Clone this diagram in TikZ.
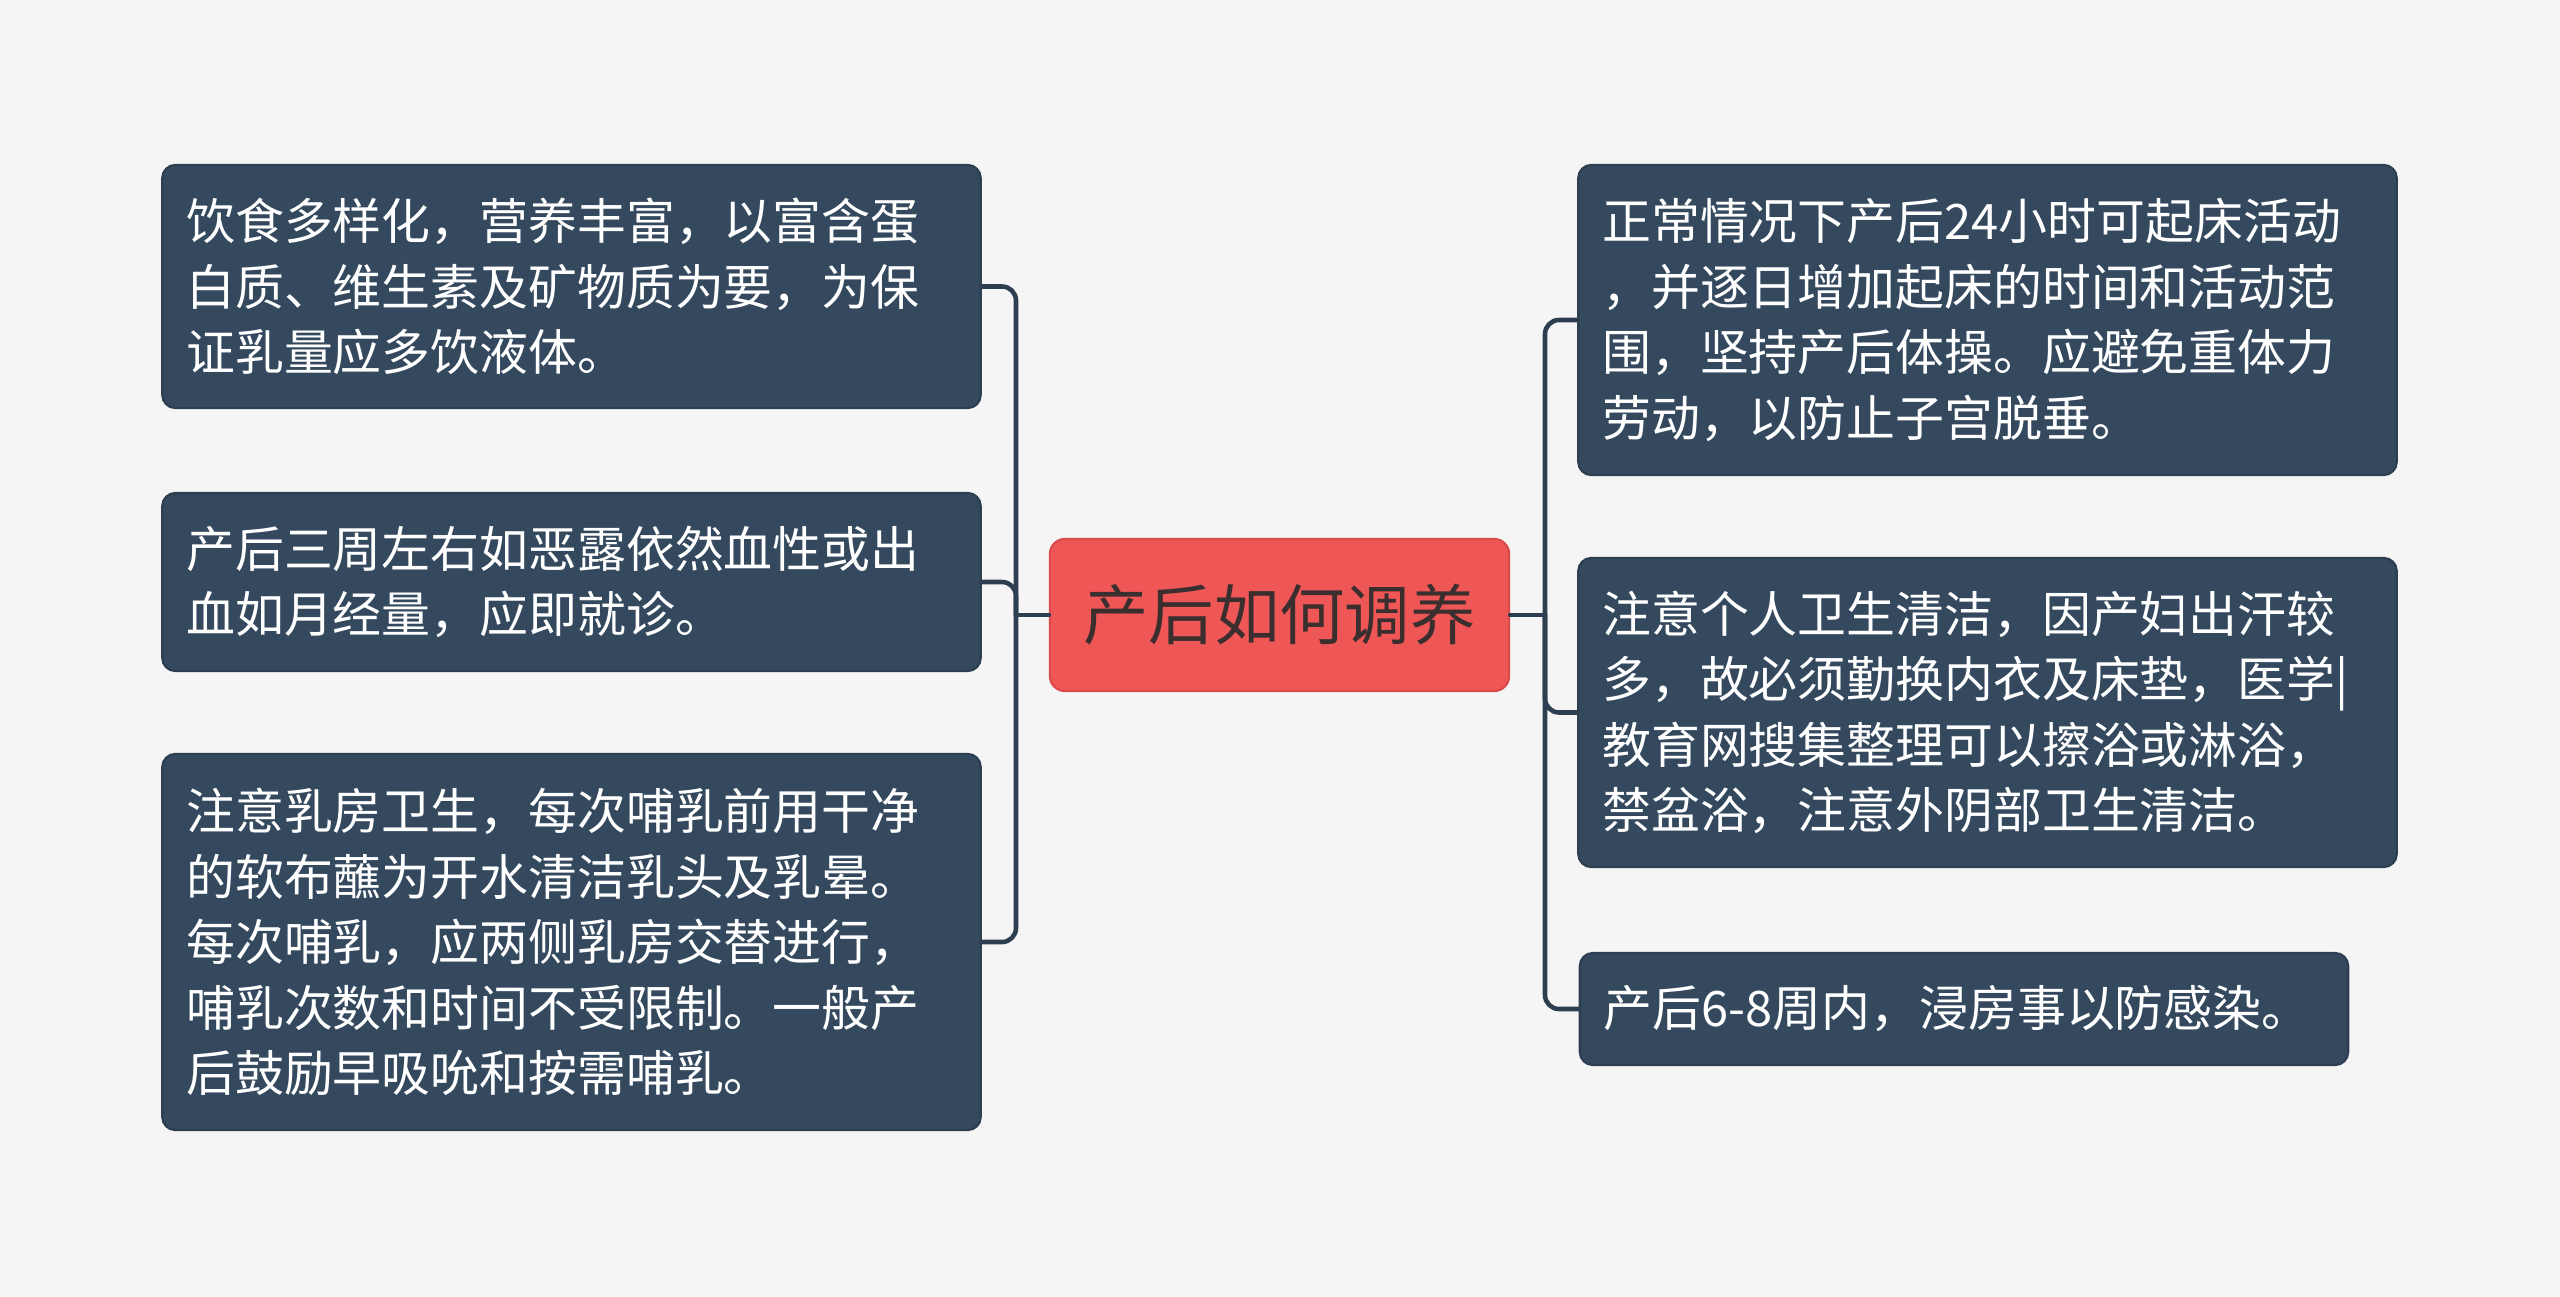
\documentclass[tikz,border=0pt]{standalone}
\usepackage{fontspec}
\setmainfont{Noto Sans CJK SC}
\definecolor{bgc}{HTML}{F5F5F5}
\definecolor{boxc}{HTML}{34495E}
\definecolor{boxl}{HTML}{2C3E50}
\definecolor{rootc}{HTML}{EF5656}
\definecolor{rootl}{HTML}{D94A4A}
\definecolor{roott}{HTML}{3A2E2E}
\tikzset{
 leaf/.style={draw=boxl, line width=0.6pt, fill=boxc, text=white, rounded corners=0.13cm,
   align=left, inner xsep=0.24cm, inner ysep=0pt,
   font=\fontsize{13.9pt}{18.6pt}\selectfont},
 root/.style={draw=rootl, line width=0.6pt, fill=rootc, text=roott, rounded corners=0.15cm,
   minimum width=4.59cm, minimum height=1.52cm, inner sep=0pt,
   font=\fontsize{18.6pt}{22pt}\selectfont},
 link/.style={draw=boxl, line width=1.3pt, rounded corners=0.14cm}
}
\begin{document}
\begin{tikzpicture}[x=0.01cm, y=-0.01cm, line join=round, line cap=round]
 \def\xl{571.5} \def\xr{1987.5}
 \fill[bgc] (0,0) rectangle (2560,1297);
 \useasboundingbox (0,0) rectangle (2560,1297);
 \node[root] (root) at (1279.5,615) {产后如何调养};
 % left side
 \node[leaf, text width=7.7cm, minimum width=8.13cm, minimum height=2.43cm] (l1) at (\xl,286.5)
  {饮食多样化，营养丰富，以富含蛋\\白质、维生素及矿物质为要，为保\\证乳量应多饮液体。};
 \node[leaf, text width=7.7cm, minimum width=8.13cm, minimum height=1.78cm] (l2) at (\xl,582)
  {产后三周左右如恶露依然血性或出\\血如月经量，应即就诊。};
 \node[leaf, text width=7.7cm, minimum width=8.13cm, minimum height=3.76cm] (l3) at (\xl,942)
  {注意乳房卫生，每次哺乳前用干净\\的软布蘸为开水清洁乳头及乳晕。\\每次哺乳，应两侧乳房交替进行，\\哺乳次数和时间不受限制。一般产\\后鼓励早吸吮和按需哺乳。};
 % right side
 \node[leaf, text width=7.7cm, minimum width=8.15cm, minimum height=3.10cm] (r1) at (\xr,320)
  {正常情况下产后24小时可起床活动\\，并逐日增加起床的时间和活动范\\围，坚持产后体操。应避免重体力\\劳动，以防止子宫脱垂。};
 \node[leaf, text width=7.7cm, minimum width=8.15cm, minimum height=3.09cm] (r2) at (\xr,712.5)
  {注意个人卫生清洁，因产妇出汗较\\多，故必须勤换内衣及床垫，医学|\\教育网搜集整理可以擦浴或淋浴，\\禁盆浴，注意外阴部卫生清洁。};
 \node[leaf, text width=7.2cm, minimum width=7.68cm, minimum height=1.12cm] (r3) at (1964,1009)
  {产后6-8周内，浸房事以防感染。};
 \coordinate (jl) at (1016,615);
 \coordinate (jr) at (1545,615);
 \draw[link] (root.west) -- (jl);
 \draw[link] (l1.east) -| (jl) |- (l3.east);
 \draw[link] (l2.east) -| (jl);
 \draw[link] (root.east) -- (jr);
 \draw[link] (r1.west) -| (jr) |- (r3.west);
 \draw[link] (r2.west) -| (jr);
\end{tikzpicture}
\end{document}
